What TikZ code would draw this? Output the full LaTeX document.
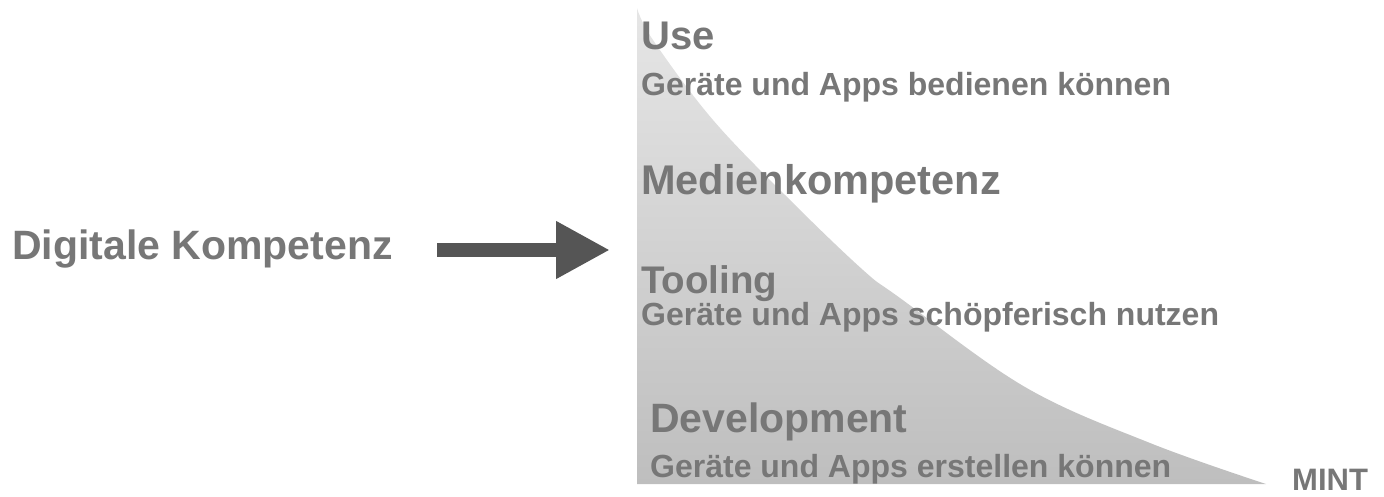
\documentclass[tikz,border=0pt]{standalone}
\usepackage{fontspec}
\setmainfont{Liberation Sans}
\usetikzlibrary{arrows.meta}
\definecolor{txtgray}{HTML}{777777}
\definecolor{arrowgray}{HTML}{555555}
\definecolor{shadetop}{HTML}{E6E6E6}
\definecolor{shadebot}{HTML}{BEBEBE}
\tikzset{
  head/.style={anchor=base west, inner sep=0pt, text=txtgray, font=\bfseries\fontsize{40}{48}\selectfont},
  sub/.style={anchor=base west, inner sep=0pt, text=txtgray, font=\bfseries\fontsize{32}{38}\selectfont},
  bigarrow/.style={draw=arrowgray, line width=14pt, -{Triangle[width=54pt,length=54pt]}}
}
\begin{document}
\begin{tikzpicture}[x=1pt,y=-1pt]
\useasboundingbox (0,0) rectangle (1384,497);
% shaded curved area
\shade[top color=shadetop, bottom color=shadebot]
  plot[smooth, tension=0.6] coordinates {(637,8) (653,40) (713,120) (790,200) (863,270) (900,298) (1025,387) (1150,443) (1266,484)}
  -- (637,484) -- cycle;
% texts
\node[head] (use) at (641,50) {Use};
\node[sub] (usesub) at (641,96) {Geräte und Apps bedienen können};
\node[head, font=\bfseries\fontsize{41.5}{48}\selectfont] (medien) at (641,195) {Medienkompetenz};
\node[head, font=\bfseries\fontsize{38.5}{46}\selectfont] (tool) at (641,293) {Tooling};
\node[sub] (toolsub) at (641,325) {Geräte und Apps schöpferisch nutzen};
\node[head, font=\bfseries\fontsize{41}{48}\selectfont] (dev) at (650,432) {Development};
\node[sub] (devsub) at (650,477) {Geräte und Apps erstellen können};
\node[sub, font=\bfseries\fontsize{31}{38}\selectfont] (mint) at (1292,490) {MINT};
\node[head, font=\bfseries\fontsize{41}{48}\selectfont] (dk) at (12,259) {Digitale Kompetenz};
% arrow
\coordinate (astart) at (437,250);
\coordinate (aend) at (610,250);
\draw[bigarrow] (astart) -- (aend);
\end{tikzpicture}
\end{document}
